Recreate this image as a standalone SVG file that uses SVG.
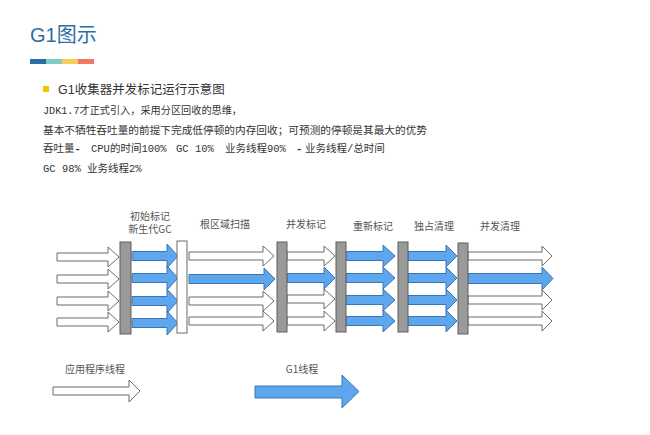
<svg xmlns="http://www.w3.org/2000/svg" width="650" height="435" viewBox="0 0 650 435">
<style>
.w{fill:#fff;stroke:#6b6b6b;stroke-width:1}
.b{fill:#5ea6ee;stroke:#3b76b3;stroke-width:1}
.g{fill:#9a9a9a;stroke:#5f5f5f;stroke-width:1}
.lbl{font-family:"Noto Sans CJK SC","Liberation Sans",sans-serif;font-size:10px;fill:#555;text-anchor:middle}
.body{font-family:"Liberation Mono","Noto Sans CJK SC",monospace;font-size:10.5px;fill:#333}
</style>
<rect width="650" height="435" fill="#fff"/>
<g id="header">
<text x="30" y="42" font-family="'Liberation Sans','Noto Sans CJK SC',sans-serif" font-size="20" fill="#2d6fa3">G1图示</text>
<rect x="30" y="59" width="16" height="5" fill="#2a6ea6"/>
<rect x="46" y="59" width="16" height="5" fill="#80cbc0"/>
<rect x="62" y="59" width="16" height="5" fill="#f6cd58"/>
<rect x="78" y="59" width="16" height="5" fill="#ef7864"/>
</g>
<g id="intro">
<rect x="43" y="86" width="6" height="6" fill="#f5c400"/>
<text x="58" y="94" font-family="'Liberation Sans','Noto Sans CJK SC',sans-serif" font-size="12.5" fill="#333">G1收集器并发标记运行示意图</text>
<text class="body" x="43" y="114" textLength="199" lengthAdjust="spacingAndGlyphs">JDK1.7才正式引入，采用分区回收的思维，</text>
<text class="body" x="43" y="134" textLength="384" lengthAdjust="spacingAndGlyphs">基本不牺牲吞吐量的前提下完成低停顿的内存回收；可预测的停顿是其最大的优势</text>
<text class="body" y="152"><tspan x="43">吞吐量</tspan><tspan font-weight="bold">-</tspan><tspan x="91">CPU的时间100%</tspan><tspan x="176">GC 10%</tspan><tspan x="225">业务线程90%</tspan><tspan x="296" font-weight="bold">-</tspan><tspan x="305">业务线程/总时间</tspan></text>
<text class="body" y="172"><tspan x="43">GC 98%</tspan><tspan x="87">业务线程2%</tspan></text>
</g>
<g id="labels">
<text class="lbl" x="150" y="219.5" font-size="9">初始标记</text>
<text class="lbl" x="150" y="233" font-size="9">新生代GC</text>
<text class="lbl" x="225" y="228">根区域扫描</text>
<text class="lbl" x="306" y="228">并发标记</text>
<text class="lbl" x="373" y="230">重新标记</text>
<text class="lbl" x="434" y="230">独占清理</text>
<text class="lbl" x="500" y="230">并发清理</text>
</g>
<g id="connectors">
<path class="w" d="M57,253H108V247L119,257L108,267V261H57Z"/>
<path class="w" d="M57,275H108V269L119,279L108,289V283H57Z"/>
<path class="w" d="M57,297H108V291L119,301L108,311V305H57Z"/>
<path class="w" d="M57,318H108V312L119,322L108,332V326H57Z"/>
<path class="b" d="M132,251.5H167V244L178,256L167,268V260.5H132Z"/>
<path class="b" d="M132,273.5H167V266L178,278L167,290V282.5H132Z"/>
<path class="b" d="M132,296.5H167V289L178,301L167,313V305.5H132Z"/>
<path class="b" d="M132,318.5H167V311L178,323L167,335V327.5H132Z"/>
<path class="w" d="M189,252H263V246L274,256L263,266V260H189Z"/>
<path class="b" d="M189,274.5H264V268L275,279L264,290V283.5H189Z"/>
<path class="w" d="M189,297H263V291L274,301L263,311V305H189Z"/>
<path class="w" d="M189,317H263V311L274,321L263,331V325H189Z"/>
<path class="w" d="M287,252H324V246L335,256L324,266V260H287Z"/>
<path class="b" d="M287,273.5H324V267L335,278L324,289V282.5H287Z"/>
<path class="w" d="M287,295H324V289L335,299L324,309V303H287Z"/>
<path class="w" d="M287,317H324V311L335,321L324,331V325H287Z"/>
<path class="b" d="M346,251.5H383V245L395,256L383,267V260.5H346Z"/>
<path class="b" d="M346,273.5H383V267L395,278L383,289V282.5H346Z"/>
<path class="b" d="M346,295.5H383V289L395,300L383,311V304.5H346Z"/>
<path class="b" d="M346,316.5H383V310L395,321L383,332V325.5H346Z"/>
<path class="b" d="M408,251.5H446V245L457,256L446,267V260.5H408Z"/>
<path class="b" d="M408,273.5H446V267L457,278L446,289V282.5H408Z"/>
<path class="b" d="M408,295.5H446V289L457,300L446,311V304.5H408Z"/>
<path class="b" d="M408,316.5H446V310L457,321L446,332V325.5H408Z"/>
<path class="w" d="M468,252H542V246L552,256L542,266V260H468Z"/>
<path class="w" d="M468,296H542V290L552,300L542,310V304H468Z"/>
<path class="w" d="M468,317H542V311L552,321L542,331V325H468Z"/>
<path class="b" d="M468,273.5H542V267L553,278.5L542,290V283.5H468Z"/>
</g>
<g id="bars">
<rect class="g" x="120" y="242" width="11" height="92"/>
<rect class="w" x="177" y="241" width="10" height="92"/>
<rect class="g" x="277" y="242" width="10" height="90"/>
<rect class="g" x="336" y="242" width="10" height="90"/>
<rect class="g" x="398" y="242" width="10" height="90"/>
<rect class="g" x="458" y="243" width="10" height="91"/>
</g>
<g id="legend-app">
<text class="lbl" x="95" y="373">应用程序线程</text>
<path class="w" d="M53,387H129V380L140,391L129,402V395H53Z"/>
</g>
<g id="legend-g1">
<text class="lbl" x="302" y="373">G1线程</text>
<path class="b" d="M255,386H342V375L359,391.5L342,408V398H255Z"/>
</g>
</svg>
